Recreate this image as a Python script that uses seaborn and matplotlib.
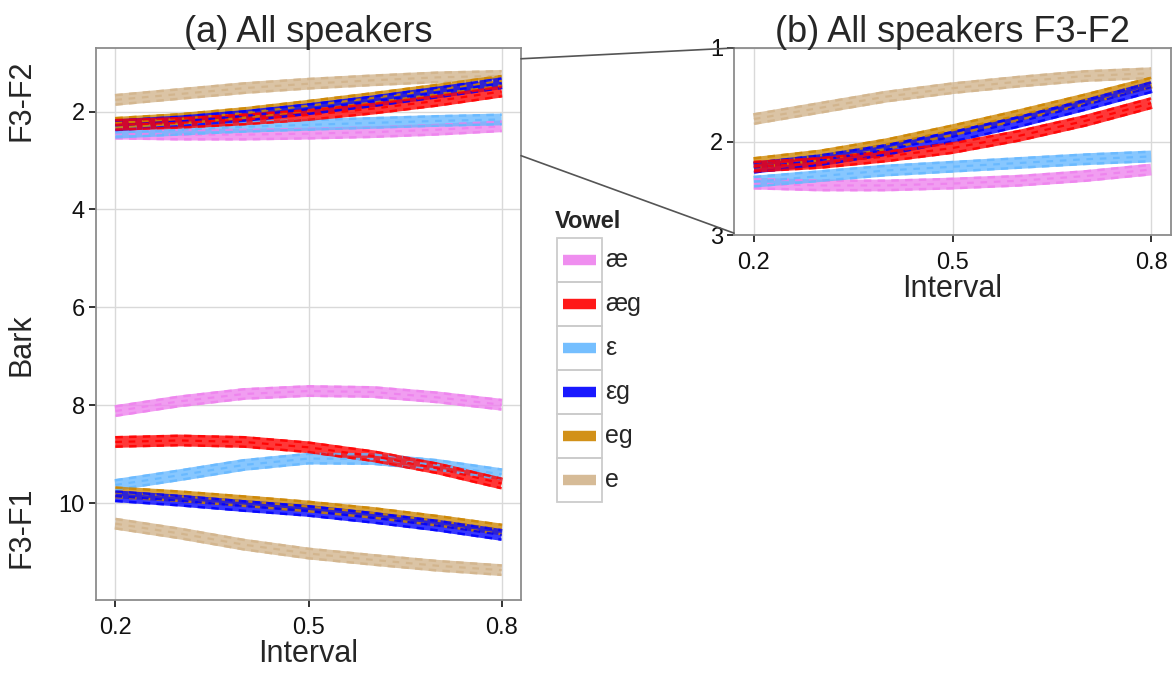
import pandas as pd
import matplotlib
matplotlib.use("Agg")
import matplotlib.pyplot as plt
import matplotlib.patheffects as pe
from matplotlib.patches import ConnectionPatch, Rectangle
from matplotlib.lines import Line2D
import seaborn as sns

# ---- data ----
intervals = [0.2, 0.3, 0.4, 0.5, 0.6, 0.7, 0.8]
vowels = ["æ", "æg", "ε", "εg", "eg", "e"]
colors = ["#EE82EE", "#FF0000", "#66B8FF", "#0000FF", "#CD8500", "#D2B48C"]
draw_order = ["e", "æ", "ε", "eg", "εg", "æg"]

# F3-F2 (Bark)
f3f2_ae = [2.45, 2.47, 2.47, 2.45, 2.42, 2.37, 2.30]
f3f2_aeg = [2.27, 2.23, 2.16, 2.07, 1.94, 1.78, 1.59]
f3f2_eps = [2.43, 2.37, 2.31, 2.27, 2.23, 2.19, 2.16]
f3f2_epsg = [2.28, 2.20, 2.09, 1.95, 1.79, 1.61, 1.42]
f3f2_eg = [2.23, 2.15, 2.03, 1.88, 1.72, 1.55, 1.37]
f3f2_e = [1.76, 1.64, 1.52, 1.43, 1.36, 1.30, 1.27]

# F3-F1 (Bark)
f3f1_ae = [8.12, 7.92, 7.77, 7.71, 7.73, 7.84, 7.99]
f3f1_aeg = [8.75, 8.72, 8.75, 8.86, 9.04, 9.29, 9.60]
f3f1_eps = [9.63, 9.43, 9.22, 9.09, 9.10, 9.22, 9.41]
f3f1_epsg = [9.86, 9.95, 10.06, 10.16, 10.30, 10.46, 10.65]
f3f1_eg = [9.78, 9.86, 9.96, 10.07, 10.20, 10.36, 10.54]
f3f1_e = [10.42, 10.62, 10.85, 11.03, 11.16, 11.28, 11.37]

f3f2_series = [f3f2_ae, f3f2_aeg, f3f2_eps, f3f2_epsg, f3f2_eg, f3f2_e]
f3f1_series = [f3f1_ae, f3f1_aeg, f3f1_eps, f3f1_epsg, f3f1_eg, f3f1_e]


def to_long(series, measure):
    rows = []
    for v, vals in zip(vowels, series):
        for x, y in zip(intervals, vals):
            rows.append({"interval": x, "bark": y, "vowel": v, "measure": measure})
    return rows

df = pd.DataFrame(to_long(f3f2_series, "F3-F2") + to_long(f3f1_series, "F3-F1"))
pal = dict(zip(vowels, colors))

sns.set_theme(style="white")
plt.rcParams["font.family"] = ["Liberation Sans", "DejaVu Sans"]

W, H = 1173, 673
fig = plt.figure(figsize=(W / 100, H / 100), dpi=100)
axA = fig.add_axes([96 / W, 1 - 600 / H, (521 - 96) / W, (600 - 48) / H])
axB = fig.add_axes([734 / W, 1 - 235 / H, (1171 - 734) / W, (235 - 48) / H])


def draw_smooths(ax, data):
    groups = []
    for m in data["measure"].unique():
        for v in draw_order:
            groups.append((data[(data["vowel"] == v) & (data["measure"] == m)], pal[v]))
    # ribbons first
    for sub, c in groups:
        sns.lineplot(data=sub, x="interval", y="bark", color=c, lw=8.5, alpha=0.78,
                     errorbar=None, ax=ax, solid_capstyle="butt")
    # then dashed edges and centre lines on top
    for sub, c in groups:
        n = len(ax.lines)
        sns.lineplot(data=sub, x="interval", y="bark", color=c, lw=1.8, alpha=0.85,
                     errorbar=None, ax=ax,
                     path_effects=[pe.Stroke(offset=(0, 3.4)), pe.Stroke(offset=(0, -3.4))])
        for ln in ax.lines[n:]:
            ln.set_dashes((3.0, 2.5))
        n = len(ax.lines)
        sns.lineplot(data=sub, x="interval", y="bark", color=c, lw=1.6, alpha=0.9,
                     errorbar=None, ax=ax)
        for ln in ax.lines[n:]:
            ln.set_dashes((3.0, 3.0))


def style_axes(ax):
    ax.set_facecolor("white")
    for s in ax.spines.values():
        s.set_color("#8c8c8c")
        s.set_linewidth(1.3)
    ax.grid(True, color="#d9d9d9", lw=1.0)
    ax.set_axisbelow(True)
    ax.tick_params(axis="both", length=5, width=1.4, color="#333333", labelsize=17,
                   labelcolor="#111111", left=True, bottom=True)
    ax.tick_params(axis="x", pad=7)
    ax.tick_params(axis="y", pad=3)
    ax.set_xlabel("Interval", fontsize=22, labelpad=0)
    ax.set_ylabel("")


draw_smooths(axA, df)
axA.set_xlim(0.17, 0.83)
axA.set_ylim(11.98, 0.7)
axA.set_xticks([0.2, 0.5, 0.8])
axA.set_yticks([2, 4, 6, 8, 10])
style_axes(axA)
axA.set_title("(a) All speakers", fontsize=26, pad=4)

draw_smooths(axB, df[df["measure"] == "F3-F2"])
axB.set_xlim(0.17, 0.83)
axB.set_ylim(3, 1)
axB.set_xticks([0.2, 0.5, 0.8])
axB.set_yticks([1, 2, 3])
style_axes(axB)
axB.set_title("(b) All speakers F3-F2", fontsize=26, pad=4)

# y-axis labels of panel (a)
fig.text(22 / W, 1 - 100 / H, "F3-F2", rotation=90, fontsize=22, ha="center", va="center")
fig.text(22 / W, 1 - 345 / H, "Bark", rotation=90, fontsize=22, ha="center", va="center")
fig.text(22 / W, 1 - 527 / H, "F3-F1", rotation=90, fontsize=22, ha="center", va="center")

# zoom connectors
for yv in [0.92, 2.9]:
    con = ConnectionPatch(xyA=(0.83, yv), coordsA=axA.transData,
                          xyB=(0.17, min(yv + 0.08, 3)), coordsB=axB.transData,
                          color="#555555", lw=1.2)
    fig.add_artist(con)

# legend drawn by hand (ggplot-style keys with borders)
leg = fig.add_axes([0, 0, 1, 1], zorder=-1)
leg.set_xlim(0, W)
leg.set_ylim(H, 0)
leg.axis("off")
leg.text(555, 222, "Vowel", fontsize=17, fontweight="bold", ha="left", va="center")
key_top, key_h = 238, 44
for i, (v, c) in enumerate(zip(vowels, colors)):
    y0 = key_top + i * key_h
    leg.add_patch(Rectangle((557, y0), 45, key_h, fill=False, ec="#cccccc", lw=1.3))
    leg.add_line(Line2D([563, 596], [y0 + key_h / 2] * 2, color=c, lw=7.5,
                        solid_capstyle="butt", alpha=0.9))
    leg.text(605, y0 + key_h / 2, v, fontsize=18, ha="left", va="center")

fig.savefig("out.png", dpi=100)
